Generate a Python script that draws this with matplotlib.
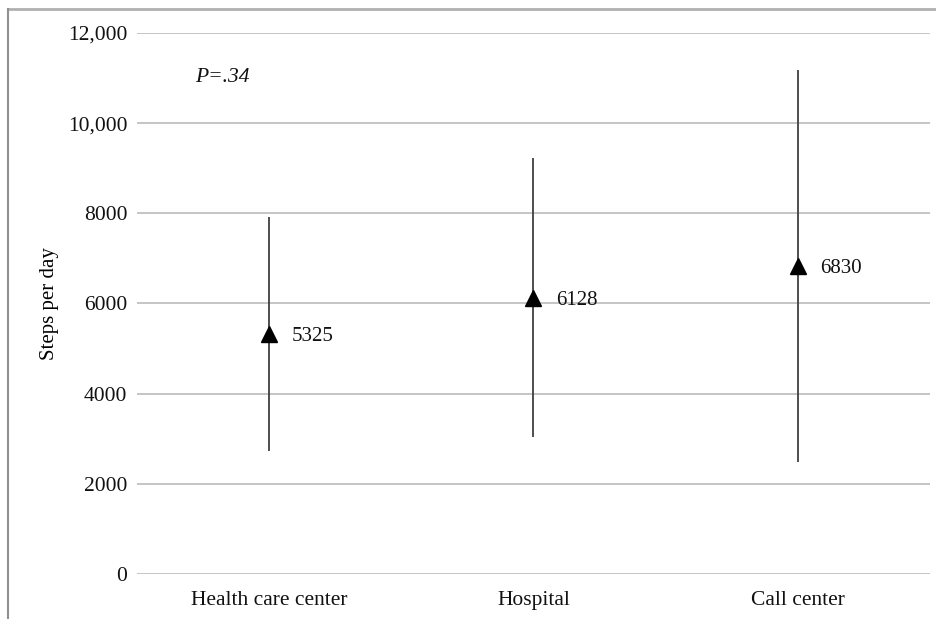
import matplotlib
matplotlib.use("Agg")
import matplotlib.pyplot as plt
from matplotlib.lines import Line2D

categories = ["Health care center", "Hospital", "Call center"]
means = [5325, 6128, 6830]
upper = [7919, 9228, 11180]
lower = [2728, 3039, 2484]
yticks = [0, 2000, 4000, 6000, 8000, 10000, 12000]
ytick_labels = ["0", "2000", "4000", "6000", "8000", "10,000", "12,000"]

plt.rcParams['font.family'] = ['Liberation Serif', 'DejaVu Serif']

fig = plt.figure(figsize=(9.37, 6.19), dpi=100)
ax = fig.add_axes([0.1462, 0.0727, 0.9925 - 0.1462, 0.9467 - 0.0727])

x = list(range(len(categories)))
ax.vlines(x, lower, upper, color='#404040', linewidth=1.3, zorder=3)
ax.plot(x, means, linestyle='none', marker='^', markersize=11, color='black', zorder=4)
for xi, m in zip(x, means):
    ax.annotate(str(m), (xi, m), xytext=(16, -2), textcoords='offset points',
                ha='left', va='center', fontsize=15, color='#111111')

ax.set_xlim(-0.5, 2.5)
ax.set_ylim(0, 12000)
ax.set_yticks(yticks)
ax.set_yticklabels(ytick_labels)
ax.set_xticks(x)
ax.set_xticklabels(categories)
ax.tick_params(axis='both', length=0, labelsize=15.5, colors='#111111')
ax.tick_params(axis='y', pad=7)
ax.tick_params(axis='x', pad=12)
ax.grid(axis='y', color='#c0c0c0', linewidth=1.3)
ax.set_axisbelow(True)
for s in ax.spines.values():
    s.set_visible(False)
ax.set_ylabel("Steps per day", fontsize=15, labelpad=6)

ax.text(0.073, 0.918, "P=.34", transform=ax.transAxes, fontsize=15.5,
        style='italic', ha='left', va='center', color='#111111')

fig.add_artist(Line2D([0.0085, 1.0], [0.9855, 0.9855], transform=fig.transFigure,
                      color='#b0b0b0', linewidth=2))
fig.add_artist(Line2D([0.0085, 0.0085], [0.0, 0.9855], transform=fig.transFigure,
                      color='#909090', linewidth=1.5))

fig.savefig("out.png", dpi=100)
